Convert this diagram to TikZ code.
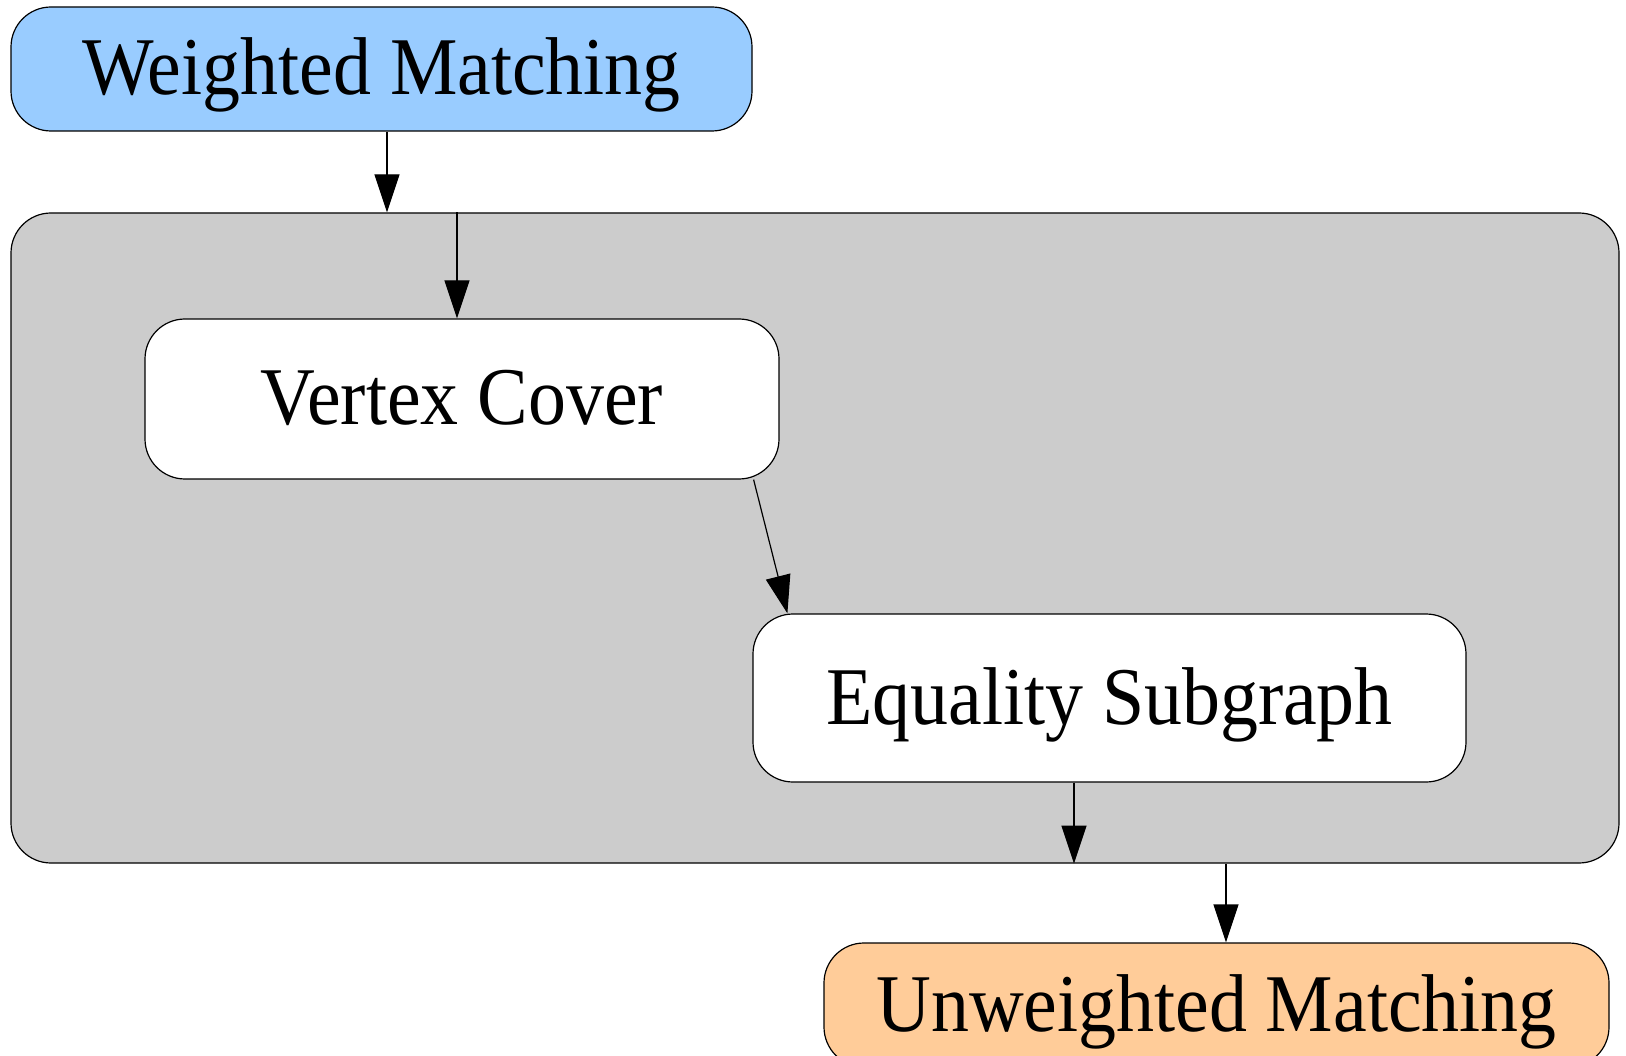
\documentclass[tikz,border=0pt]{standalone}
\usepackage{fontspec}
\usetikzlibrary{arrows.meta}
\newfontfamily\labelfont[FakeStretch=0.925]{Liberation Serif}
\definecolor{wmblue}{RGB}{153,204,255}
\definecolor{uwtan}{RGB}{255,204,153}
\definecolor{grpgray}{RGB}{204,204,204}
\tikzset{
  box/.style={rectangle,draw,line width=1.2pt,rounded corners=40pt,
    font=\labelfont\fontsize{82}{90}\selectfont,text height=52pt,text depth=0pt},
  edge/.style={line width=1.2pt,-{Triangle[length=38pt,width=25pt]}}
}
\begin{document}
\begin{tikzpicture}[x=1pt,y=-1pt]
\useasboundingbox(0,0)rectangle(1626,1056);
%cluster
\node[box,fill=grpgray,minimum width=1608pt,minimum height=650pt](grp)at(815,538){};
%matching nodes
\node[box,fill=wmblue,minimum width=741pt,minimum height=124pt](wm)at(381.5,69){Weighted Matching};
\node[box,fill=uwtan,minimum width=785pt,minimum height=124pt](uw)at(1216.5,1005){Unweighted Matching};
%inner nodes
\node[box,fill=white,minimum width=634pt,minimum height=160pt](vc)at(462,399){Vertex Cover};
\node[box,fill=white,minimum width=713pt,minimum height=168pt](eq)at(1109.5,698){Equality Subgraph};
%edges
\draw[edge]([xshift=5.5pt]wm.south)--([xshift=5.5pt]wm.south |- grp.north);
\draw[edge]([xshift=-5pt]vc.north |- grp.north)--([xshift=-5pt]vc.north);
\draw[edge]([xshift=-26pt]vc.south east)--([xshift=35pt]eq.north west);
\draw[edge]([xshift=-35.5pt]eq.south)--([xshift=-35.5pt]eq.south |- grp.south);
\draw[edge]([xshift=9.5pt]uw.north |- grp.south)--([xshift=9.5pt]uw.north);
\end{tikzpicture}
\end{document}
